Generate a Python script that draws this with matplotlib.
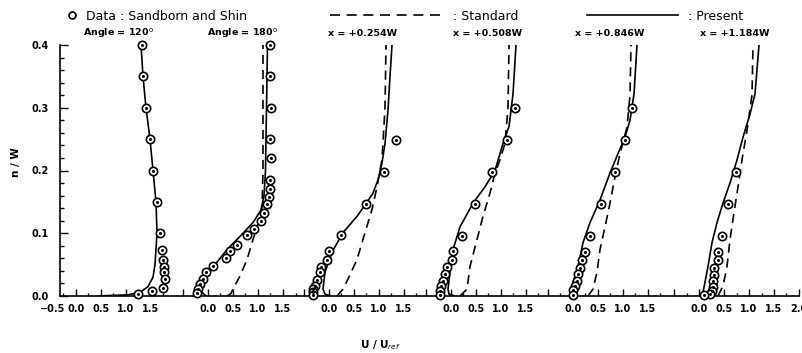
import numpy as np
import matplotlib
matplotlib.use("Agg")
import matplotlib.pyplot as plt
from matplotlib.lines import Line2D
from matplotlib.ticker import FixedLocator, NullFormatter

# ---- measured and computed velocity profiles (U/Uref vs n/W) ----
profile_titles = ["Angle = 120$^{\\mathrm{o}}$", "Angle = 180$^{\\mathrm{o}}$",
                  "x = +0.254W", "x = +0.508W", "x = +0.846W", "x = +1.184W"]

# Data : Sandborn and Shin
data_n = [
    [0.400, 0.350, 0.300, 0.250, 0.200, 0.150, 0.100, 0.073, 0.058, 0.047, 0.038, 0.027, 0.013, 0.008, 0.003],
    [0.400, 0.350, 0.300, 0.250, 0.220, 0.185, 0.170, 0.158, 0.147, 0.133, 0.120, 0.107, 0.098, 0.082,
     0.071, 0.060, 0.048, 0.038, 0.027, 0.019, 0.011, 0.004],
    [0.248, 0.198, 0.147, 0.097, 0.071, 0.058, 0.047, 0.038, 0.026, 0.016, 0.011, 0.006, 0.001],
    [0.299, 0.248, 0.198, 0.147, 0.096, 0.071, 0.058, 0.046, 0.035, 0.024, 0.016, 0.008, 0.001],
    [0.299, 0.248, 0.198, 0.147, 0.095, 0.070, 0.057, 0.044, 0.035, 0.024, 0.016, 0.009, 0.002],
    [0.198, 0.147, 0.095, 0.070, 0.057, 0.044, 0.033, 0.024, 0.015, 0.008, 0.003, 0.001],
]
data_u = [
    [1.32, 1.34, 1.40, 1.48, 1.54, 1.62, 1.68, 1.72, 1.74, 1.76, 1.76, 1.78, 1.74, 1.52, 1.24],
    [1.24, 1.24, 1.26, 1.24, 1.26, 1.24, 1.24, 1.22, 1.18, 1.12, 1.06, 0.92, 0.78, 0.58,
     0.44, 0.36, 0.10, -0.04, -0.10, -0.16, -0.20, -0.22],
    [1.34, 1.10, 0.74, 0.24, 0.00, -0.04, -0.16, -0.18, -0.24, -0.28, -0.32, -0.32, -0.32],
    [1.28, 1.12, 0.82, 0.48, 0.22, 0.04, 0.02, -0.08, -0.12, -0.16, -0.20, -0.22, -0.22],
    [1.18, 1.04, 0.84, 0.56, 0.34, 0.24, 0.18, 0.14, 0.10, 0.08, 0.04, 0.00, 0.00],
    [0.74, 0.58, 0.46, 0.38, 0.38, 0.30, 0.30, 0.28, 0.28, 0.26, 0.22, 0.10],
]

# Present model
present_n = [
    [0.0, 0.002, 0.005, 0.008, 0.015, 0.03, 0.05, 0.10, 0.15, 0.20, 0.25, 0.30, 0.35, 0.40],
    [0.0, 0.006, 0.011, 0.022, 0.046, 0.074, 0.095, 0.117, 0.137, 0.16, 0.20, 0.30, 0.40],
    [0.0, 0.003, 0.011, 0.038, 0.070, 0.101, 0.127, 0.147, 0.164, 0.185, 0.212, 0.243, 0.296, 0.35, 0.40],
    [0.0, 0.003, 0.011, 0.038, 0.074, 0.110, 0.148, 0.174, 0.200, 0.243, 0.270, 0.322, 0.40],
    [0.0, 0.006, 0.022, 0.047, 0.085, 0.117, 0.153, 0.196, 0.227, 0.253, 0.280, 0.322, 0.40],
    [0.0, 0.006, 0.022, 0.047, 0.085, 0.117, 0.148, 0.180, 0.217, 0.253, 0.290, 0.322, 0.40],
]
present_u = [
    [0.45, 1.05, 1.22, 1.32, 1.44, 1.54, 1.58, 1.62, 1.60, 1.54, 1.48, 1.40, 1.34, 1.30],
    [-0.04, -0.12, -0.16, -0.10, 0.10, 0.38, 0.64, 0.90, 1.06, 1.12, 1.15, 1.17, 1.19],
    [0.02, -0.08, -0.12, -0.08, 0.06, 0.28, 0.56, 0.74, 0.88, 0.98, 1.06, 1.12, 1.18, 1.22, 1.26],
    [0.08, -0.04, -0.06, -0.02, 0.04, 0.18, 0.44, 0.68, 0.88, 1.04, 1.16, 1.24, 1.30],
    [-0.06, -0.04, 0.00, 0.10, 0.20, 0.34, 0.54, 0.74, 0.90, 1.04, 1.14, 1.22, 1.28],
    [0.08, 0.08, 0.12, 0.18, 0.26, 0.36, 0.48, 0.62, 0.76, 0.88, 1.02, 1.12, 1.20],
]

# Standard model (no curve drawn for the first station)
standard_n = [
    None,
    [0.0, 0.004, 0.011, 0.032, 0.058, 0.090, 0.120, 0.140, 0.20, 0.30, 0.40],
    [0.0, 0.011, 0.027, 0.058, 0.101, 0.138, 0.174, 0.217, 0.30, 0.40],
    [0.0, 0.011, 0.047, 0.090, 0.127, 0.164, 0.196, 0.217, 0.243, 0.30, 0.40],
    [0.0, 0.011, 0.038, 0.074, 0.110, 0.148, 0.190, 0.227, 0.269, 0.32, 0.40],
    [0.0, 0.016, 0.047, 0.090, 0.133, 0.174, 0.217, 0.264, 0.32, 0.40],
]
standard_u = [
    None,
    [0.38, 0.46, 0.50, 0.64, 0.78, 0.90, 1.02, 1.08, 1.10, 1.10, 1.10],
    [0.16, 0.28, 0.38, 0.56, 0.72, 0.86, 0.96, 1.06, 1.12, 1.14],
    [0.18, 0.32, 0.38, 0.52, 0.64, 0.78, 0.88, 0.98, 1.08, 1.14, 1.16],
    [0.30, 0.40, 0.48, 0.54, 0.64, 0.74, 0.84, 0.94, 1.08, 1.14, 1.16],
    [0.38, 0.48, 0.56, 0.62, 0.70, 0.78, 0.86, 0.96, 1.06, 1.08],
]

# horizontal shift of each station's U axis on the shared abscissa
station_shift = [0.0, 2.64, 5.06, 7.50, 9.94, 12.46]

# ---- figure ----
W, H = 803, 353
fig = plt.figure(figsize=(W / 100, H / 100), dpi=100)
ax_l, ax_r, ax_t, ax_b = 60, 799, 45, 296
ax = fig.add_axes([ax_l / W, 1 - ax_b / H, (ax_r - ax_l) / W, (ax_b - ax_t) / H])

x_lo = -0.32
x_hi = station_shift[-1] + 2.0
ax.set_xlim(x_lo, x_hi)
ax.set_ylim(0.0, 0.4)

for s in ("top", "right"):
    ax.spines[s].set_visible(False)
for s in ("left", "bottom"):
    ax.spines[s].set_linewidth(1.2)

ln_kw = dict(color="black", lw=1.2, solid_capstyle="butt")
for k, sh in enumerate(station_shift):
    ax.plot(np.array(present_u[k]) + sh, present_n[k], ls="-", **ln_kw)
    if standard_u[k] is not None:
        ax.plot(np.array(standard_u[k]) + sh, standard_n[k], ls=(0, (5.5, 3.5)), **ln_kw)
    xd = np.array(data_u[k]) + sh
    ax.plot(xd, data_n[k], ls="none", marker="o", ms=6, mfc="white", mec="black",
            mew=1.2, clip_on=False, zorder=4)
    ax.plot(xd, data_n[k], ls="none", marker="o", ms=1.2, color="black",
            clip_on=False, zorder=5)

# ---- ticks ----
major_pos, major_lab, minor_pos = [], [], []
for k, sh in enumerate(station_shift):
    top = 2.0 if k == len(station_shift) - 1 else 1.5
    for v in np.arange(-0.5, top + 0.01, 0.5):
        p = sh + v
        if x_lo - 1e-9 <= p <= x_hi + 1e-9:
            major_pos.append(p)
            major_lab.append(f"{v:.1f}" if v >= 0 else "")
    for v in np.arange(-0.25, 1.76, 0.5):
        p = sh + v
        if x_lo <= p <= x_hi:
            minor_pos.append(p)

tick_font = dict(fontsize=7, fontweight="bold", family="DejaVu Sans")
x_pad_pt = 6
ax.set_xticks(major_pos)
ax.set_xticklabels(major_lab, **tick_font)
ax.xaxis.set_minor_locator(FixedLocator(minor_pos))
ax.xaxis.set_minor_formatter(NullFormatter())
ax.tick_params(axis="x", which="major", direction="in", length=5, width=1.0, pad=x_pad_pt)
ax.tick_params(axis="x", which="minor", direction="in", length=2.5, width=1.0)
for lab in ax.get_xticklabels():
    lab.set_clip_on(False)
# label for the -0.5 position that lies left of the axis origin, on the tick-label row
pad_frac = (x_pad_pt * 100 / 72) / (ax_b - ax_t)
ax.text(-0.46, -pad_frac, "\u22120.5", ha="center", va="top",
        transform=ax.get_xaxis_transform(), clip_on=False, **tick_font)

ax.set_yticks([0.0, 0.1, 0.2, 0.3, 0.4])
ax.set_yticklabels(["0.0", "0.1", "0.2", "0.3", "0.4"], **tick_font)
ax.yaxis.set_minor_locator(FixedLocator(np.arange(0.02, 0.4, 0.02)))
ax.yaxis.set_minor_formatter(NullFormatter())
ax.tick_params(axis="y", which="major", direction="in", length=6, width=1.0, pad=8)
ax.tick_params(axis="y", which="minor", direction="in", length=3, width=1.0)

# ---- axis titles ----
fig.text(16 / W, 1 - 162 / H, "n / W", rotation=90, ha="center", va="center",
         fontsize=7.5, fontweight="bold")
fig.text(380 / W, 1 - 345 / H, "U / U$_{ref}$", ha="center", va="center",
         fontsize=7.5, fontweight="bold")

# ---- station captions ----
cap_x = [83, 207, 328, 453, 575, 700]
for k, t in enumerate(profile_titles):
    fig.text(cap_x[k] / W, 1 - 33 / H, t, ha="left", va="center",
             fontsize=6.8, fontweight="bold")

# ---- key ----
fig.add_artist(Line2D([72 / W], [1 - 15 / H], ls="none", marker="o", ms=5,
                      mfc="white", mec="black", mew=1.2))
fig.text(86 / W, 1 - 16 / H, "Data : Sandborn and Shin", ha="left", va="center", fontsize=9)
fig.add_artist(Line2D([330 / W, 442 / W], [1 - 15 / H, 1 - 15 / H], color="black",
                      lw=1.2, ls=(0, (6, 4))))
fig.text(453 / W, 1 - 16 / H, ": Standard", ha="left", va="center", fontsize=9)
fig.add_artist(Line2D([587 / W, 678 / W], [1 - 15 / H, 1 - 15 / H], color="black", lw=1.2))
fig.text(688 / W, 1 - 16 / H, ": Present", ha="left", va="center", fontsize=9)

fig.savefig("out.png", dpi=100)
